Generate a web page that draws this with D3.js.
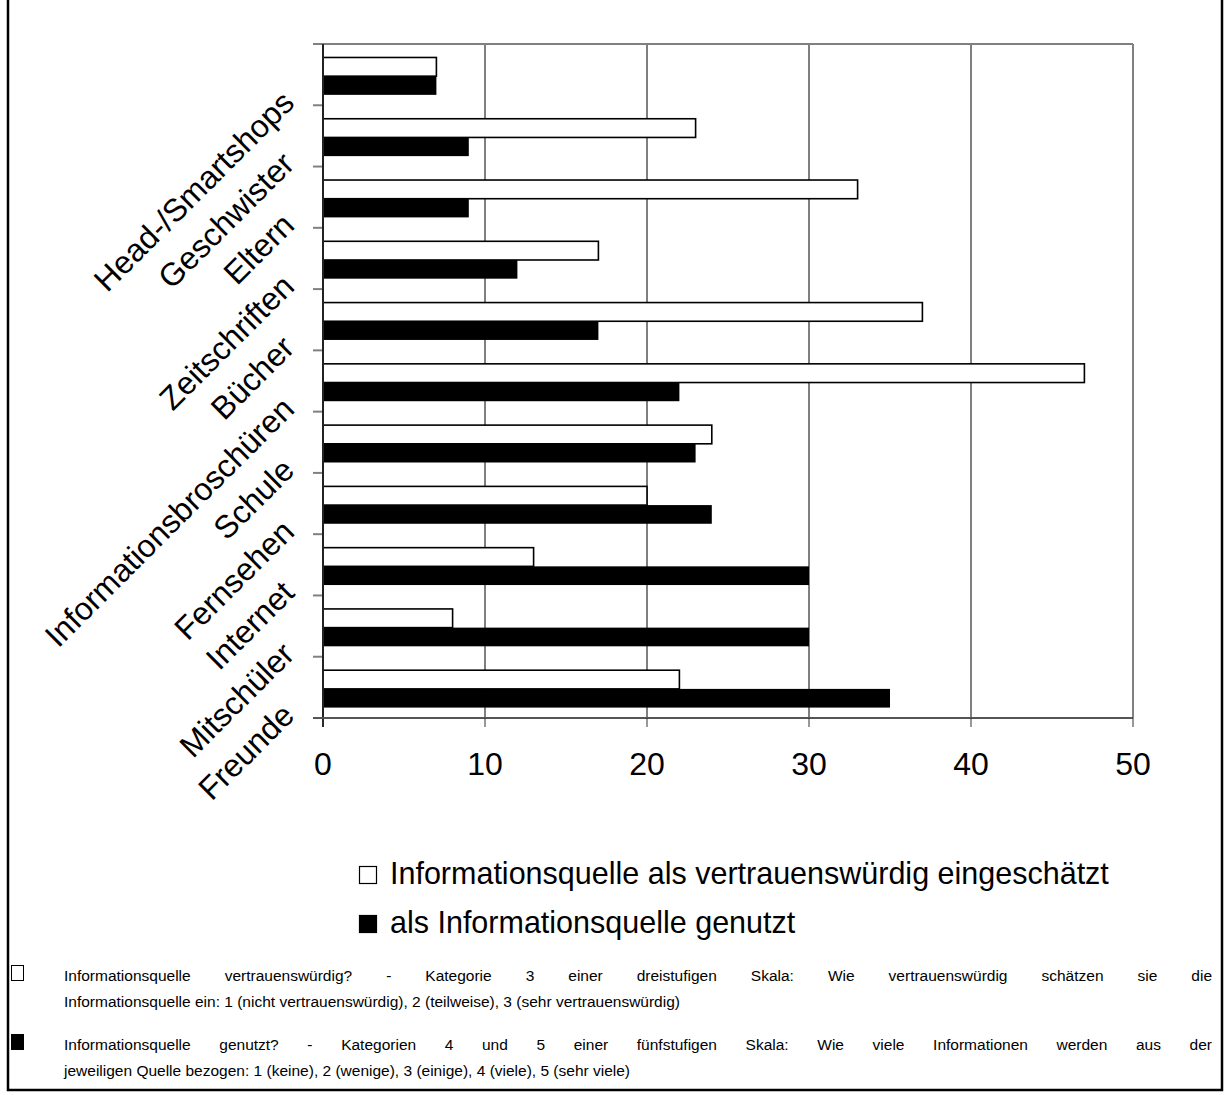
<!DOCTYPE html>
<html>
<head>
<meta charset="utf-8">
<script src="https://cdn.jsdelivr.net/npm/d3@7"></script>
<style>
  body { margin: 0; background: #fff; }
  text { font-family: "Liberation Sans", Arial, sans-serif; }
</style>
</head>
<body>
<div id="chart"></div>
<script>
// categories from top to bottom
var categories = ["Head-/Smartshops", "Geschwister", "Eltern", "Zeitschriften", "Bücher",
  "Informationsbroschüren", "Schule", "Fernsehen", "Internet", "Mitschüler", "Freunde"];
// white bars: rated trustworthy
var trusted = [7, 23, 33, 17, 37, 47, 24, 20, 13, 8, 22];
// black bars: used as source
var used = [7, 9, 9, 12, 17, 22, 23, 24, 30, 30, 35];
var xTicks = [0, 10, 20, 30, 40, 50];
var legendLabels = ["Informationsquelle als vertrauenswürdig eingeschätzt", "als Informationsquelle genutzt"];
var notes = [
  ["Informationsquelle vertrauenswürdig? - Kategorie 3 einer dreistufigen Skala: Wie vertrauenswürdig schätzen sie die",
   "Informationsquelle ein: 1 (nicht vertrauenswürdig), 2 (teilweise), 3 (sehr vertrauenswürdig)"],
  ["Informationsquelle genutzt? - Kategorien 4 und 5 einer fünfstufigen Skala: Wie viele Informationen werden aus der",
   "jeweiligen Quelle bezogen: 1 (keine), 2 (wenige), 3 (einige), 4 (viele), 5 (sehr viele)"]
];

var W = 1229, H = 1095;
var margin = {top: 44, left: 323, right: 96, bottom: 377};
var width = W - margin.left - margin.right,
    height = H - margin.top - margin.bottom;

var svg = d3.select("#chart").append("svg")
  .attr("width", W).attr("height", H);

// outer frame (top edge lies above the picture)
svg.append("rect")
  .attr("x", 8).attr("y", -20).attr("width", 1214).attr("height", 1110)
  .attr("fill", "none").attr("stroke", "#000").attr("stroke-width", 2.5);

var g = svg.append("g")
  .attr("transform", "translate(" + margin.left + "," + margin.top + ")");

var x = d3.scaleLinear().domain([0, 50]).range([0, width]);
var y = d3.scaleBand().domain(categories).range([0, height]);
var bw = y.bandwidth();
var ySub = d3.scaleBand().domain(["trusted", "used"]).range([bw * 0.22, bw * 0.83]);

// gridlines
g.selectAll(".grid").data(xTicks.slice(1, 5)).enter().append("line")
  .attr("x1", function(d) { return x(d); }).attr("x2", function(d) { return x(d); })
  .attr("y1", 0).attr("y2", height)
  .attr("stroke", "#000").attr("stroke-width", 1);

// top and right frame of plot
g.append("line").attr("x1", -10).attr("x2", width).attr("y1", 0).attr("y2", 0)
  .attr("stroke", "#808080").attr("stroke-width", 2);
g.append("line").attr("x1", width).attr("x2", width).attr("y1", 0).attr("y2", height)
  .attr("stroke", "#808080").attr("stroke-width", 2);

// bars
var rows = categories.map(function(c, i) { return {cat: c, trusted: trusted[i], used: used[i]}; });

g.selectAll(".bt").data(rows).enter().append("rect")
  .attr("x", x(0))
  .attr("y", function(d) { return y(d.cat) + ySub("trusted"); })
  .attr("width", function(d) { return x(d.trusted); })
  .attr("height", ySub.bandwidth())
  .attr("fill", "#fff").attr("stroke", "#000").attr("stroke-width", 1.6);

g.selectAll(".bu").data(rows).enter().append("rect")
  .attr("x", x(0))
  .attr("y", function(d) { return y(d.cat) + ySub("used"); })
  .attr("width", function(d) { return x(d.used); })
  .attr("height", ySub.bandwidth())
  .attr("fill", "#000");

// left axis: ticks at band boundaries
var bounds = categories.map(function(c) { return y(c); }).concat([height]);
g.selectAll(".ltick").data(bounds).enter().append("line")
  .attr("x1", -10).attr("x2", 0)
  .attr("y1", function(d) { return d; }).attr("y2", function(d) { return d; })
  .attr("stroke", "#808080").attr("stroke-width", 2);
g.append("line").attr("x1", 0).attr("x2", 0).attr("y1", 0).attr("y2", height + 9)
  .attr("stroke", "#222").attr("stroke-width", 2);

// bottom axis
g.append("line").attr("x1", -10).attr("x2", width).attr("y1", height).attr("y2", height)
  .attr("stroke", "#555").attr("stroke-width", 2);
g.selectAll(".btick").data(xTicks).enter().append("line")
  .attr("x1", function(d) { return x(d); }).attr("x2", function(d) { return x(d); })
  .attr("y1", height).attr("y2", height + 9)
  .attr("stroke", "#333").attr("stroke-width", 1);
g.selectAll(".blabel").data(xTicks).enter().append("text")
  .attr("x", function(d) { return x(d); })
  .attr("y", height + 57)
  .attr("text-anchor", "middle")
  .attr("font-size", 32)
  .text(function(d) { return d; });

// category labels, rotated
g.selectAll(".clabel").data(categories).enter().append("text")
  .attr("transform", function(d) {
    return "translate(-27," + (y(d) + bw / 2 + 30) + ") rotate(-45)";
  })
  .attr("text-anchor", "end")
  .attr("font-size", 32)
  .text(function(d) { return d; });

// legend
var legend = svg.append("g").attr("transform", "translate(359,866)");
legendLabels.forEach(function(lbl, i) {
  legend.append("rect")
    .attr("x", 0.5).attr("y", i * 49 + 0.5).attr("width", 17).attr("height", 17)
    .attr("fill", i === 0 ? "#fff" : "#000")
    .attr("stroke", "#000").attr("stroke-width", 1.2);
  legend.append("text")
    .attr("x", 31).attr("y", i * 49 + 18)
    .attr("font-size", 30.5)
    .text(lbl);
});

// footnotes, first line of each justified by word spacing
var notesG = svg.append("g");
notes.forEach(function(lines, i) {
  var y0 = 981 + i * 69;
  notesG.append("rect")
    .attr("x", 11.5).attr("y", y0 - 15.5).attr("width", 12).attr("height", 15)
    .attr("fill", i === 0 ? "#fff" : "#000")
    .attr("stroke", "#000").attr("stroke-width", 1);
  lines.forEach(function(line, j) {
    var t = notesG.append("text")
      .attr("x", 64).attr("y", y0 + j * 26)
      .attr("font-size", 15.5)
      .text(line);
    if (j === 0) {
      var w = t.node().getComputedTextLength();
      var gaps = line.split(" ").length - 1;
      t.attr("word-spacing", (1148 - w) / gaps);
    }
  });
});
</script>
</body>
</html>
